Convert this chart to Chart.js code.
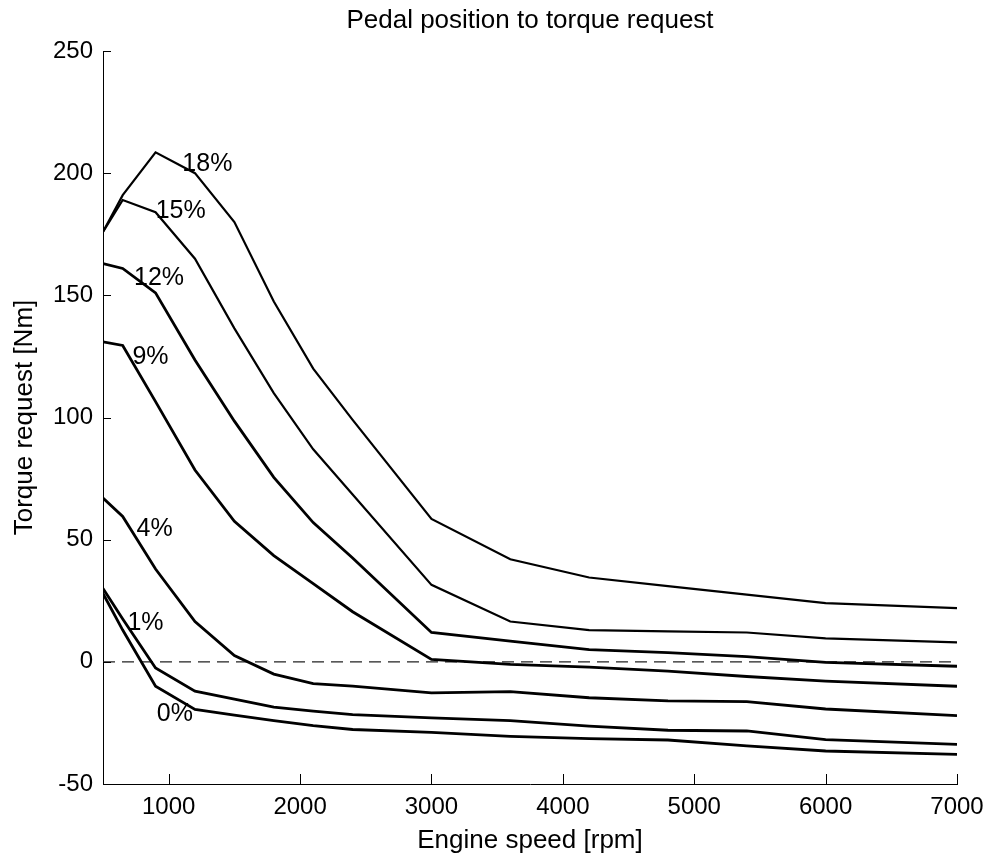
<!DOCTYPE html>
<html>
<head>
<meta charset="utf-8">
<style>
  html, body { margin: 0; padding: 0; background: #fff; }
  canvas { display: block; }
</style>
<script src="https://cdn.jsdelivr.net/npm/chart.js@4.4.1/dist/chart.umd.min.js"></script>
</head>
<body>
<canvas id="c" width="986" height="856"></canvas>
<script>
// ---- data ----
const speedRpm = [500, 650, 900, 1200, 1500, 1800, 2100, 2400, 3000, 3600, 4200, 4800, 5400, 6000, 7000];
const torque18 = [176, 191, 208.5, 200, 180, 147.5, 120, 99, 58.5, 42, 34.5, 31, 27.5, 24, 22];
const torque15 = [176, 189, 184, 165, 136.5, 110, 87, 68.5, 31.5, 16.5, 13, 12.5, 12, 9.6, 8];
const torque12 = [163, 161, 151, 123.5, 98.5, 75.5, 57, 42.5, 12, 8.5, 5, 3.8, 2.1, -0.2, -1.8];
const torque9  = [131, 129.5, 106.5, 78.5, 57.5, 43.5, 32, 20.5, 1, -1, -2.2, -3.8, -6, -7.9, -10];
const torque4  = [67, 59.5, 38, 16.5, 2.6, -5, -8.9, -9.9, -12.7, -12.2, -14.7, -16, -16.3, -19.3, -22];
const torque1  = [30, 17.5, -2.5, -12, -15.3, -18.5, -20.2, -21.6, -22.9, -24.1, -26.3, -28, -28.3, -31.8, -33.8];
const torque0  = [28, 13, -10, -19.5, -21.8, -24.1, -26.1, -27.7, -28.9, -30.5, -31.4, -32, -34.4, -36.5, -37.9];
const seriesNames = ['18%', '15%', '12%', '9%', '4%', '1%', '0%'];
const seriesValues = [torque18, torque15, torque12, torque9, torque4, torque1, torque0];
const labelX = [1104, 901, 736, 724, 755, 686, 909];
const labelY = [203.6, 184.3, 157, 124.6, 54.5, 15.8, -21.4];
const zeroLineX = [500, 7000];
const zeroLineY = [0, 0];
const xTickValues = [1000, 2000, 3000, 4000, 5000, 6000, 7000];
const yTickValues = [-50, 0, 50, 100, 150, 200, 250];

const FONT = "'Liberation Sans', Arial, sans-serif";
const widths = [2.2, 2.2, 2.8, 2.8, 2.8, 2.8, 2.8];

const datasets = seriesValues.map((vals, i) => ({
  label: seriesNames[i],
  data: speedRpm.map((x, j) => ({ x: x, y: vals[j] })),
  borderColor: '#000',
  borderWidth: widths[i],
  pointRadius: 0,
  showLine: true,
  tension: 0,
  order: 1
}));
datasets.push({
  label: 'zero',
  data: zeroLineX.map((x, j) => ({ x: x, y: zeroLineY[j] })),
  borderColor: '#222',
  borderWidth: 1.4,
  borderDash: [12, 7],
  pointRadius: 0,
  showLine: true,
  order: 2
});

const innerTicks = {
  id: 'innerTicks',
  afterDraw(chart) {
    const { ctx, chartArea, scales } = chart;
    const xs = scales.x, ys = scales.y;
    ctx.save();
    ctx.strokeStyle = '#000';
    ctx.lineWidth = 1;
    ctx.beginPath();
    xTickValues.forEach(v => {
      const px = Math.round(xs.getPixelForValue(v)) + 0.5;
      ctx.moveTo(px, chartArea.bottom);
      ctx.lineTo(px, chartArea.bottom - 10);
    });
    yTickValues.forEach(v => {
      const py = Math.round(ys.getPixelForValue(v)) + 0.5;
      ctx.moveTo(chartArea.left, py);
      ctx.lineTo(chartArea.left + 8, py);
    });
    ctx.stroke();
    ctx.restore();
  }
};

const curveLabels = {
  id: 'curveLabels',
  afterDatasetsDraw(chart) {
    const { ctx, scales } = chart;
    ctx.save();
    ctx.fillStyle = '#000';
    ctx.font = '25px ' + FONT;
    ctx.textAlign = 'left';
    ctx.textBaseline = 'middle';
    seriesNames.forEach((t, i) => {
      ctx.fillText(t, scales.x.getPixelForValue(labelX[i]), scales.y.getPixelForValue(labelY[i]));
    });
    ctx.restore();
  }
};

new Chart(document.getElementById('c'), {
  type: 'scatter',
  data: { datasets: datasets },
  options: {
    responsive: false,
    animation: false,
    devicePixelRatio: 1,
    layout: { padding: { left: 0, right: 29, top: 0, bottom: 0 } },
    plugins: {
      legend: { display: false },
      tooltip: { enabled: false },
      title: {
        display: true,
        fullSize: false,
        text: 'Pedal position to torque request',
        color: '#000',
        font: { family: FONT, size: 26, weight: 'normal' },
        padding: { top: 5, bottom: 14.8 }
      }
    },
    scales: {
      x: {
        type: 'linear',
        min: 500,
        max: 7000,
        afterFit(s) { s.height = 72; s.paddingLeft = 0; s.paddingRight = 0; },
        afterBuildTicks(s) { s.ticks = xTickValues.map(v => ({ value: v })); },
        grid: { display: true, drawOnChartArea: false, drawTicks: false },
        border: { display: true, color: '#000', width: 1 },
        ticks: {
          color: '#000',
          font: { family: FONT, size: 24 },
          padding: 9,
          maxRotation: 0,
          autoSkip: false,
          callback: v => String(v)
        },
        title: {
          display: true,
          text: 'Engine speed [rpm]',
          color: '#000',
          font: { family: FONT, size: 26 },
          padding: { top: 0, bottom: 0 }
        }
      },
      y: {
        type: 'linear',
        min: -50,
        max: 250,
        afterFit(s) { s.width = 103; s.paddingTop = 0; s.paddingBottom = 0; },
        afterBuildTicks(s) { s.ticks = yTickValues.map(v => ({ value: v })); },
        grid: { display: true, drawOnChartArea: false, drawTicks: false },
        border: { display: true, color: '#000', width: 1 },
        ticks: {
          color: '#000',
          font: { family: FONT, size: 24 },
          padding: 10,
          autoSkip: false,
          callback: v => String(v)
        },
        title: {
          display: true,
          text: 'Torque request [Nm]',
          color: '#000',
          font: { family: FONT, size: 26 },
          padding: { top: 9, bottom: 0 }
        }
      }
    }
  },
  plugins: [innerTicks, curveLabels]
});
</script>
</body>
</html>
